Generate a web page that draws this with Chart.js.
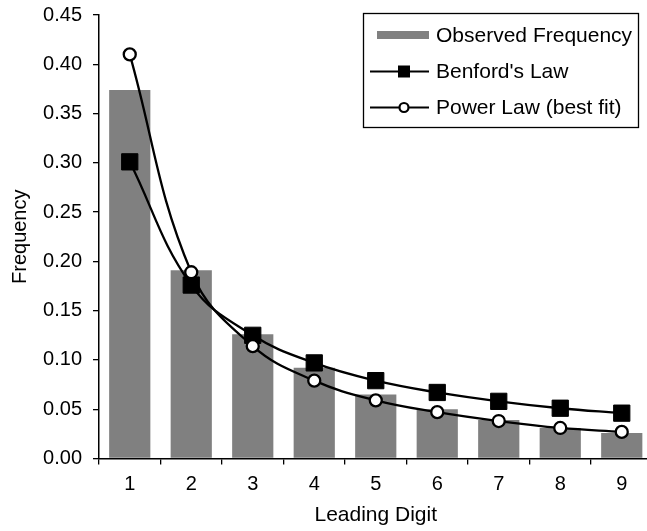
<!DOCTYPE html>
<html lang="en">
  <head>
    <meta charset="UTF-8"/>
    <title>Leading digit frequency</title>
    <style>
      html, body { margin: 0; background: #fff; overflow: hidden; }
      #wrap { width: 665px; height: 531px; }
    </style>
  </head>
  <body>
  <div id="wrap">
    <canvas id="digitChart"></canvas>
  </div>
  <script src="https://cdn.jsdelivr.net/npm/chart.js"></script>
  <script>
    const digits = ['1', '2', '3', '4', '5', '6', '7', '8', '9'];
    const observed = [0.374, 0.191, 0.126, 0.092, 0.065, 0.050, 0.039, 0.031, 0.026];
    const benford = [0.301, 0.176, 0.125, 0.097, 0.079, 0.067, 0.058, 0.051, 0.046];
    const powerFit = [0.410, 0.189, 0.114, 0.079, 0.059, 0.047, 0.038, 0.031, 0.027];
    const yTicks = [0, 0.05, 0.10, 0.15, 0.20, 0.25, 0.30, 0.35, 0.40, 0.45];

    const FONT = '"Liberation Sans", Arial, sans-serif';

    // legend with a frame, drawn by hand inside the plot
    const boxLegend = {
      id: 'boxLegend',
      afterDraw(chart) {
        const ctx = chart.ctx;
        ctx.save();
        ctx.fillStyle = '#fff';
        ctx.fillRect(363.5, 13.5, 275, 114);
        ctx.strokeStyle = '#000';
        ctx.lineWidth = 1.3;
        ctx.strokeRect(363.5, 13.5, 275, 114);
        const rows = [35, 71.5, 107.5];
        ctx.font = '21px ' + FONT;
        ctx.textBaseline = 'middle';
        chart.data.datasets.forEach((ds, i) => {
          const y = rows[i];
          if (ds.type === 'bar') {
            ctx.fillStyle = ds.backgroundColor;
            ctx.fillRect(377, y - 4, 52, 8);
          } else {
            ctx.strokeStyle = '#000';
            ctx.lineWidth = 2.2;
            ctx.beginPath();
            ctx.moveTo(370, y);
            ctx.lineTo(429, y);
            ctx.stroke();
            if (ds.pointStyle === 'rect') {
              ctx.fillStyle = '#000';
              ctx.fillRect(398, y - 6, 12, 12);
            } else {
              ctx.fillStyle = '#fff';
              ctx.beginPath();
              ctx.arc(404, y, 4.5, 0, Math.PI * 2);
              ctx.fill();
              ctx.stroke();
            }
          }
          ctx.fillStyle = '#000';
          ctx.fillText(ds.label, 436, y + 1);
        });
        ctx.restore();
      }
    };

    const data = {
      labels: digits,
      datasets: [{
        type: 'bar',
        label: 'Observed Frequency',
        data: observed,
        backgroundColor: '#808080',
        barPercentage: 0.67,
        categoryPercentage: 1,
        order: 3
      }, {
        type: 'line',
        label: "Benford's Law",
        data: benford,
        borderColor: '#000',
        borderWidth: 2.3,
        tension: 0.4,
        pointStyle: 'rect',
        pointRadius: 11.5,
        pointBackgroundColor: '#000',
        pointBorderColor: '#000',
        pointBorderWidth: 1,
        order: 2
      }, {
        type: 'line',
        label: 'Power Law (best fit)',
        data: powerFit,
        borderColor: '#000',
        borderWidth: 2.3,
        tension: 0.4,
        pointStyle: 'circle',
        pointRadius: 6,
        pointBackgroundColor: '#fff',
        pointBorderColor: '#000',
        pointBorderWidth: 2.3,
        order: 1
      }]
    };

    const config = {
      type: 'bar',
      data,
      plugins: [boxLegend],
      options: {
        responsive: true,
        maintainAspectRatio: false,
        animation: false,
        layout: { padding: { top: 15, right: 0, bottom: 2, left: 0 } },
        plugins: {
          legend: { display: false },
          tooltip: { enabled: false }
        },
        scales: {
          x: {
            afterFit(scale) { scale.height = 70.5; },
            grid: { drawOnChartArea: false, tickLength: 6, color: '#000', lineWidth: 1.3 },
            border: { color: '#000', width: 1.5 },
            ticks: { color: '#000', padding: 8, font: { family: FONT, size: 20 } },
            title: {
              display: true,
              text: 'Leading Digit',
              color: '#000',
              font: { family: FONT, size: 21 },
              padding: { top: 9, bottom: 1 }
            }
          },
          y: {
            min: 0,
            max: 0.45,
            afterFit(scale) {
              scale.width = 99;
              scale.paddingTop = 0;
              scale.paddingBottom = 0;
            },
            afterBuildTicks(scale) { scale.ticks = yTicks.map(v => ({ value: v })); },
            grid: { drawOnChartArea: false, tickLength: 6, color: '#000', lineWidth: 1.3 },
            border: { color: '#000', width: 1.5 },
            ticks: {
              color: '#000',
              padding: 11,
              font: { family: FONT, size: 20 },
              callback: v => Number(v).toFixed(2)
            },
            title: {
              display: true,
              text: 'Frequency',
              color: '#000',
              font: { family: FONT, size: 20 },
              padding: { top: 8, bottom: 0 }
            }
          }
        }
      }
    };

    const digitChart = new Chart(document.getElementById('digitChart'), config);
  </script>
  </body>
</html>
